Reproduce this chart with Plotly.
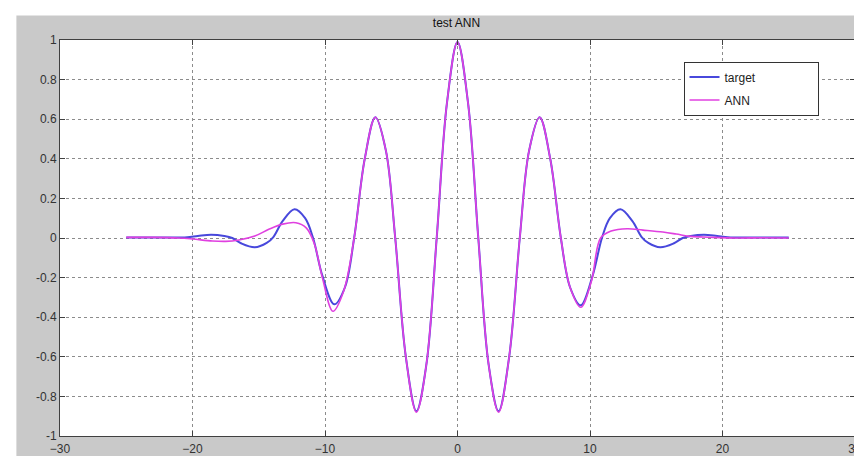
import plotly.graph_objects as go

# ---- data ----
target_x = [-25, -23, -21.5, -20.4, -19.6, -18.6, -17.6, -17.0, -16.3, -15.3, -14.4, -13.9,
            -13.2, -12.3, -11.5, -10.9, -10.2, -9.3, -8.5, -7.8, -7.0, -6.2, -5.4, -4.7,
            -3.9, -3.1, -2.35, -1.57, -0.8, 0,
            0.8, 1.57, 2.35, 3.1, 3.9, 4.7, 5.4, 6.2, 7.0, 7.8, 8.5, 9.3, 10.2, 10.9,
            11.5, 12.3, 13.2, 13.9, 14.4, 15.3, 16.3, 17.0, 17.6, 18.6, 19.6, 20.4,
            21.5, 23, 25]
target_y = [0.002, 0.003, 0.002, 0.004, 0.010, 0.016, 0.010, 0.000, -0.028, -0.047, -0.025, 0.005,
            0.085, 0.145, 0.100, 0.000, -0.190, -0.335, -0.250, 0.000, 0.400, 0.610, 0.440, 0.000,
            -0.600, -0.875, -0.640, 0.000, 0.680, 0.990,
            0.680, 0.000, -0.640, -0.875, -0.600, 0.000, 0.440, 0.610, 0.400, 0.000, -0.250, -0.340, -0.190, 0.000,
            0.100, 0.145, 0.085, 0.005, -0.025, -0.047, -0.028, 0.000, 0.010, 0.016, 0.010, 0.004,
            0.002, 0.003, 0.002]

ann_x = [-25, -23, -21, -20, -18.5, -17.5, -16.5, -15.3, -14.2, -13.2, -12.2, -11.4,
         -10.8, -10.2, -9.4, -8.6, -7.8, -7.0, -6.2, -5.4, -4.7,
         -3.9, -3.1, -2.35, -1.57, -0.8, 0,
         0.8, 1.57, 2.35, 3.1, 3.9, 4.7, 5.4, 6.2, 7.0, 7.8, 8.5, 9.3, 10.1, 10.8,
         11.6, 12.8, 14.0, 15.5, 16.5, 17.6, 19.0, 21, 23, 25]
ann_y = [0.003, 0.003, 0.000, -0.005, -0.015, -0.017, -0.010, 0.010, 0.045, 0.070, 0.077, 0.050,
         -0.030, -0.200, -0.370, -0.270, 0.000, 0.400, 0.610, 0.440, 0.000,
         -0.600, -0.880, -0.640, 0.000, 0.680, 0.990,
         0.680, 0.000, -0.640, -0.880, -0.600, 0.000, 0.440, 0.610, 0.400, 0.000, -0.250, -0.350, -0.220, 0.000,
         0.035, 0.047, 0.040, 0.030, 0.020, 0.008, 0.004, 0.000, 0.001, 0.000]

x_ticks = [-30, -20, -10, 0, 10, 20, 30]
y_ticks = [-1, -0.8, -0.6, -0.4, -0.2, 0, 0.2, 0.4, 0.6, 0.8, 1]
y_tick_labels = ["-1", "-0.8", "-0.6", "-0.4", "-0.2", "0", "0.2", "0.4", "0.6", "0.8", "1"]

pad = "\u00a0" * 17
fig = go.Figure()
fig.add_trace(go.Scatter(x=target_x, y=target_y, mode="lines", name="target" + pad,
                         legendgroup="t",
                         line=dict(color="#4848dc", width=2, shape="spline", smoothing=1.0)))
fig.add_trace(go.Scatter(x=ann_x, y=ann_y, mode="lines", name="ANN" + pad,
                         legendgroup="a",
                         line=dict(color="#e040e0", width=1.6, shape="spline", smoothing=1.0)))

L, T, W, H = 52, 32, 802, 405
def px(p):
    return (p - L) / W
def py(p):
    return (T + H - p) / H

# thin white margins on the top and left of the gray figure frame
fig.add_shape(type="rect", xref="paper", yref="paper",
              x0=px(-5), x1=px(870), y0=py(7), y1=py(-5),
              fillcolor="white", line=dict(width=0), layer="below")
fig.add_shape(type="rect", xref="paper", yref="paper",
              x0=px(-5), x1=px(8), y0=py(460), y1=py(-5),
              fillcolor="white", line=dict(width=0), layer="below")

axis_common = dict(showline=True, linecolor="#404040", linewidth=1, mirror="ticks",
                   ticks="inside", ticklen=5, tickcolor="#404040",
                   showgrid=True, gridcolor="#8c8c8c", griddash="dot", gridwidth=1,
                   zeroline=False, tickfont=dict(size=12, color="#333333"))

fig.update_xaxes(range=[-30, 30], tickvals=x_ticks, ticklabelstandoff=2, **axis_common)
fig.update_yaxes(range=[-1, 1], tickvals=y_ticks, ticktext=y_tick_labels, **axis_common)

fig.update_layout(
    width=862, height=456,
    margin=dict(l=L, r=862 - L - W, t=T, b=456 - T - H),
    paper_bgcolor="#c9c9c9", plot_bgcolor="white",
    font=dict(family="Liberation Sans, Arial, sans-serif", size=12, color="#222222"),
    title=dict(text="test ANN", x=px(452), xanchor="center", xref="paper",
               y=1 - 15 / 456, yref="container", yanchor="middle",
               font=dict(size=12, color="#111111")),
    legend=dict(x=px(681), y=py(54), xanchor="left", yanchor="top",
                bgcolor="white", bordercolor="#333333", borderwidth=1,
                font=dict(size=12, color="#222222"),
                tracegroupgap=4),
    showlegend=True,
)

fig.write_html("out.html")
